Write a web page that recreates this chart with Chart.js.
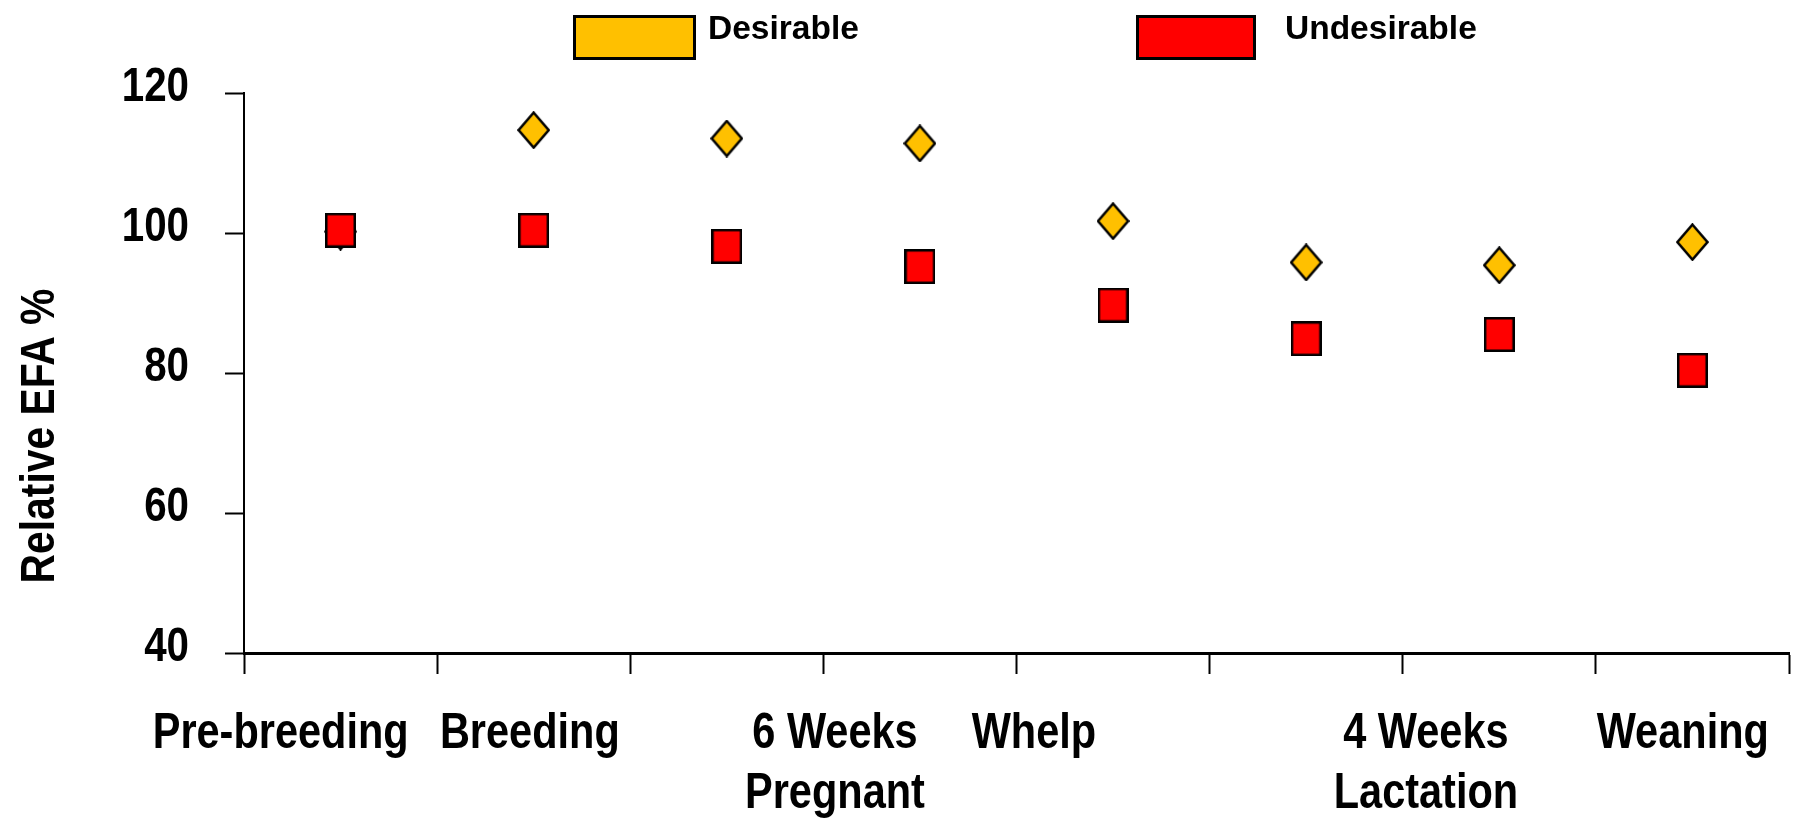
<!DOCTYPE html>
<html>
<head>
<meta charset="utf-8">
<script src="https://cdn.jsdelivr.net/npm/chart.js@4.4.1/dist/chart.umd.min.js"></script>
<style>
  html, body { margin: 0; padding: 0; background: #ffffff; }
  canvas { display: block; }
</style>
</head>
<body>
<canvas id="efa" width="1795" height="820"></canvas>
<script>
// Relative EFA % through the reproductive cycle, desirable vs undesirable
const desirable   = [100.2, 114.7, 113.5, 112.8, 101.7, 95.8, 95.4, 98.7];
const undesirable = [100.4, 100.4, 98.1, 95.2, 89.7, 84.9, 85.5, 80.4];

// stage captions along the bottom and where each sits on the 0..8 stage axis
const stageLabels  = ['Pre-breeding', 'Breeding', ['6 Weeks', 'Pregnant'], 'Whelp', ['4 Weeks', 'Lactation'], 'Weaning'];
const stageLabelAt = [0.19, 1.48, 3.06, 4.09, 6.12, 7.45];

const yTickValues  = [40, 60, 80, 100, 120];
const seriesNames  = ['Desirable', 'Undesirable'];
const seriesColors = ['#FFC000', '#FF0000'];
const yTitle = 'Relative EFA %';

const FONT = "'Liberation Sans', Arial, sans-serif";

// outlined marker bitmaps used as point styles
function markerCanvas(w, h, fill, shape) {
  const c = document.createElement('canvas');
  c.width = w; c.height = h;
  const g = c.getContext('2d');
  g.beginPath();
  if (shape === 'diamond') {
    g.moveTo(w / 2, 1.5); g.lineTo(w - 1.5, h / 2); g.lineTo(w / 2, h - 1.5); g.lineTo(1.5, h / 2);
    g.closePath();
  } else {
    g.rect(1.25, 1.25, w - 2.5, h - 2.5);
  }
  g.fillStyle = fill; g.fill();
  g.lineWidth = 2.5; g.lineJoin = 'miter'; g.strokeStyle = '#000'; g.stroke();
  return c;
}

const toPoints = vals => vals.map((v, i) => ({ x: i + 0.5, y: v }));

// bold text squeezed horizontally into a narrow face
function narrowText(ctx, text, x, y, size, squeeze, align, rotate) {
  ctx.save();
  ctx.translate(x, y);
  if (rotate) ctx.rotate(-Math.PI / 2);
  ctx.scale(squeeze, 1);
  ctx.font = 'bold ' + size + 'px ' + FONT;
  ctx.textAlign = align;
  ctx.textBaseline = 'alphabetic';
  ctx.fillStyle = '#000';
  ctx.fillText(text, 0, 0);
  ctx.restore();
}

// header key, axis captions and tick labels
const decorations = {
  id: 'decorations',
  afterDraw(chart, args, opts) {
    const ctx = chart.ctx;
    const xs = chart.scales.x, ys = chart.scales.y;

    ctx.save();
    opts.keys.forEach((k, i) => {
      ctx.fillStyle = seriesColors[i];
      ctx.fillRect(k.x, k.y, k.w, k.h);
      ctx.lineWidth = 3; ctx.strokeStyle = '#000';
      ctx.strokeRect(k.x + 1.5, k.y + 1.5, k.w - 3, k.h - 3);
      ctx.fillStyle = '#000';
      ctx.font = 'bold 33.5px ' + FONT;
      ctx.textAlign = 'left'; ctx.textBaseline = 'alphabetic';
      ctx.fillText(seriesNames[i], k.tx, k.ty);
    });
    ctx.restore();

    // value-axis numbers
    ys.ticks.forEach(t => {
      narrowText(ctx, String(t.value), ys.right - opts.yLabelGap,
        ys.getPixelForValue(t.value) + opts.yLabelDrop, 48, 0.84, 'right');
    });

    // stage captions
    stageLabels.forEach((lab, i) => {
      const lines = Array.isArray(lab) ? lab : [lab];
      const px = xs.getPixelForValue(stageLabelAt[i]);
      lines.forEach((line, j) => {
        narrowText(ctx, line, px, xs.top + opts.stageBaseline + j * opts.stageLineHeight, 50, 0.83, 'center');
      });
    });

    // value-axis caption
    narrowText(ctx, yTitle, opts.title.x,
      (chart.chartArea.top + chart.chartArea.bottom) / 2 + opts.title.shift, 48, 0.85, 'center', true);
  }
};

new Chart(document.getElementById('efa'), {
  type: 'scatter',
  data: {
    datasets: [
      {
        label: seriesNames[0],
        data: toPoints(desirable),
        pointStyle: markerCanvas(33, 38, seriesColors[0], 'diamond'),
        pointRadius: 17, pointHoverRadius: 17,
        showLine: false, order: 1
      },
      {
        label: seriesNames[1],
        data: toPoints(undesirable),
        pointStyle: markerCanvas(31, 35, seriesColors[1], 'rect'),
        pointRadius: 17, pointHoverRadius: 17,
        showLine: false, order: 0
      }
    ]
  },
  options: {
    responsive: false,
    animation: false,
    layout: { autoPadding: false, padding: { top: 93, right: 6, left: 0, bottom: 0 } },
    plugins: {
      legend: { display: false },
      tooltip: { enabled: false },
      decorations: {
        keys: [
          { x: 573, y: 15, w: 123, h: 45, tx: 708, ty: 39 },
          { x: 1136, y: 15, w: 120, h: 45, tx: 1285, ty: 39 }
        ],
        yLabelGap: 55,
        yLabelDrop: 8,
        stageBaseline: 95,
        stageLineHeight: 60,
        title: { x: 53.5, shift: 63 }
      }
    },
    scales: {
      x: {
        type: 'linear', position: 'bottom', min: 0, max: 8,
        ticks: { display: false, stepSize: 1 },
        grid: { drawOnChartArea: false, tickLength: 21, tickWidth: 2, color: '#000' },
        border: { display: true, color: '#000', width: 3 },
        afterFit(scale) { scale.height = 167; }
      },
      y: {
        type: 'linear', position: 'left', min: 40, max: 120,
        afterBuildTicks(scale) { scale.ticks = yTickValues.map(v => ({ value: v })); },
        ticks: { display: false },
        grid: { drawOnChartArea: false, tickLength: 19, tickWidth: 2, color: '#000' },
        border: { display: true, color: '#000', width: 2 },
        afterFit(scale) { scale.width = 244; }
      }
    }
  },
  plugins: [decorations]
});
</script>
</body>
</html>
